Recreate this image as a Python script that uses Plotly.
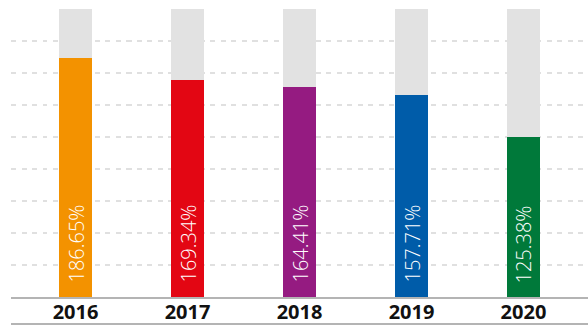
import plotly.graph_objects as go

# Yearly ratios shown as vertical bars against a full-scale backdrop
years = ["2016", "2017", "2018", "2019", "2020"]
ratios = [186.65, 169.34, 164.41, 157.71, 125.38]
bar_colors = ["#f39200", "#e30613", "#951b81", "#005ca9", "#00793a"]

AXIS_MAX = 225
GRID_STEP = 25
BAR_WIDTH = 0.295

fig = go.Figure()

# light grey backdrop bar filling the full scale behind each year
fig.add_trace(go.Bar(
    x=years, y=[AXIS_MAX] * len(years), width=BAR_WIDTH,
    marker=dict(color="#e2e2e2", line=dict(width=0)),
    hoverinfo="skip", showlegend=False,
))

# coloured value bars
fig.add_trace(go.Bar(
    x=years, y=ratios, width=BAR_WIDTH,
    marker=dict(color=bar_colors, line=dict(width=0)),
    showlegend=False,
))

# value labels written upward from the base of each bar
# (category axes place annotations by serial index)
for i, v in enumerate(ratios):
    fig.add_annotation(
        x=i, y=0, xref="x", yref="y",
        text=f"{v:.2f}%", textangle=-90, showarrow=False,
        yanchor="bottom", xanchor="center", yshift=12,
        font=dict(family="Open Sans", size=20, color="white", weight=300),
    )

# rule under the year labels
fig.add_shape(
    type="line", xref="paper", yref="paper",
    x0=0, x1=1, y0=-0.09375, y1=-0.09375,
    line=dict(color="#b4b4b4", width=2),
)

fig.update_layout(
    width=588, height=327,
    margin=dict(l=11, r=0, t=9, b=30),
    paper_bgcolor="white", plot_bgcolor="white",
    barmode="overlay", bargap=0,
    xaxis=dict(
        type="category", range=[-0.576, 4.576], automargin=False,
        showline=True, linecolor="#b4b4b4", linewidth=2,
        showgrid=False, ticks="", zeroline=False,
        tickfont=dict(family="Open Sans", size=20, color="#111111", weight="bold"),
        ticklabelstandoff=-4,
    ),
    yaxis=dict(
        range=[0, AXIS_MAX], dtick=GRID_STEP, tick0=0, automargin=False,
        showticklabels=False, zeroline=False, showline=False,
        showgrid=True, gridcolor="#e0e0e0", gridwidth=2, griddash="5px,5.5px",
    ),
)

fig.write_html("out.html")
